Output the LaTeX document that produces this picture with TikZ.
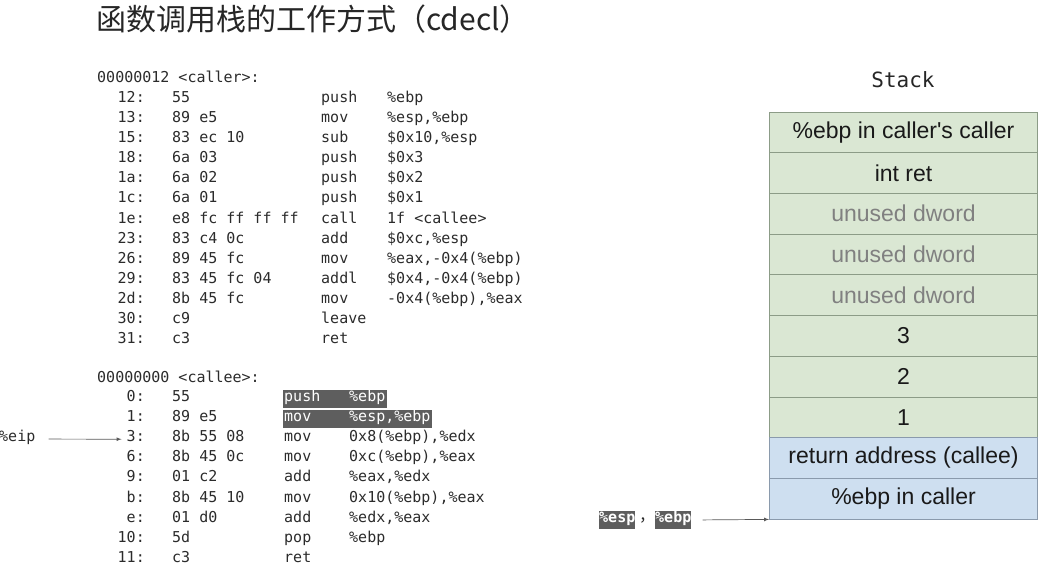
\documentclass[tikz,border=0pt]{standalone}
\usepackage{fontspec}
\setmainfont{Liberation Sans}
\setmonofont{DejaVu Sans Mono}
\newfontfamily\cjk{Noto Sans CJK SC}
\usetikzlibrary{arrows,backgrounds,positioning}
\definecolor{gfill}{HTML}{DAE7D3}
\definecolor{gline}{HTML}{8C9C87}
\definecolor{bfill}{HTML}{CEDFF0}
\definecolor{bline}{HTML}{8A9AAC}
\definecolor{codetext}{HTML}{2B2B2B}
\definecolor{hlgray}{HTML}{5E5E5E}

\begin{document}
\begin{tikzpicture}[
    x=1pt, y=-1pt,
    asm/.style={font=\ttfamily\fontsize{15}{18}\selectfont,text=codetext,
        inner sep=0pt,text height=11pt,text depth=6pt,anchor=west},
    hl/.style={text=white},
    nohl/.style={},
    hlbox/.style={fill=hlgray},
    tag/.style={asm,fill=hlgray,text=white,text height=12pt,text depth=6.5pt,
        font=\ttfamily\bfseries\fontsize{15}{18}\selectfont},
    gcell/.style={draw=gline,fill=gfill,line width=0.8pt,
        minimum width=268pt,minimum height=40.7pt,inner sep=0pt,
        font=\fontsize{23}{26}\selectfont,text=black!90},
    ucell/.style={gcell,text=black!50},
    bcell/.style={gcell,draw=bline,fill=bfill},
    ptr/.style={->,draw=black!65,line width=0.7pt},
    >=latex,
    ]
    \useasboundingbox (0,0) rectangle (1048,571);
    % title
    \node[font=\cjk\fontsize{30}{34}\selectfont,text=black!85,
        anchor=west,inner sep=0pt] (title) at (96,19)
        {函数调用栈的工作方式（cdecl）};
    % caller
    \node[asm] (caller) at (97,80) {00000012 <caller>:};
    \foreach \a/\b/\m/\o [count=\i] in {
        12/55/push/\%ebp,
        13/89 e5/mov/{\%esp,\%ebp},
        15/83 ec 10/sub/{\$0x10,\%esp},
        18/6a 03/push/\$0x3,
        1a/6a 02/push/\$0x2,
        1c/6a 01/push/\$0x1,
        1e/e8 fc ff ff ff/call/1f <callee>,
        23/83 c4 0c/add/{\$0xc,\%esp},
        26/89 45 fc/mov/{\%eax,-0x4(\%ebp)},
        29/83 45 fc 04/addl/{\$0x4,-0x4(\%ebp)},
        2d/8b 45 fc/mov/{-0x4(\%ebp),\%eax},
        30/c9/leave/{},
        31/c3/ret/{}}
    {
        \node[asm,anchor=east] (adr\i) at (145,99.8+20.12*\i-20.12) {\a:};
        \node[asm] (hex\i) at (172,99.8+20.12*\i-20.12) {\b};
        \node[asm] (mn\i) at (321,99.8+20.12*\i-20.12) {\m};
        \node[asm] (arg\i) at (387,99.8+20.12*\i-20.12) {\o};
    }
    % callee
    \node[asm] (callee) at (97,379.5) {00000000 <callee>:};
    \foreach \a/\b/\m/\o/\s [count=\i] in {
        0/55/push/\%ebp/hl,
        1/89 e5/mov/{\%esp,\%ebp}/hl,
        3/8b 55 08/mov/{0x8(\%ebp),\%edx}/nohl,
        6/8b 45 0c/mov/{0xc(\%ebp),\%eax}/nohl,
        9/01 c2/add/{\%eax,\%edx}/nohl,
        b/8b 45 10/mov/{0x10(\%ebp),\%eax}/nohl,
        e/01 d0/add/{\%edx,\%eax}/nohl,
        10/5d/pop/\%ebp/nohl,
        11/c3/ret/{}/nohl}
    {
        \node[asm,anchor=east] (cadr\i) at (145,399+20.12*\i-20.12) {\a:};
        \node[asm] (chex\i) at (172,399+20.12*\i-20.12) {\b};
        \node[asm,\s] (cmn\i) at (284,399+20.12*\i-20.12) {\m};
        \node[asm,\s] (carg\i) at (349,399+20.12*\i-20.12) {\o};
    }
    \begin{pgfonlayer}{background}
        \fill[hlbox] ([xshift=-1pt]cmn1.north west)
            rectangle ([xshift=1pt]carg1.south east);
        \fill[hlbox] ([xshift=-1pt]cmn2.north west)
            rectangle ([xshift=1pt]carg2.south east);
    \end{pgfonlayer}
    % instruction pointer
    \node[asm] (eip) at (-1,439) {\%eip};
    \draw[ptr,shorten <=13pt,shorten >=5pt] (eip) -- (cadr3);
    % stack
    \node[font=\ttfamily\fontsize{21}{24}\selectfont,text=black!85]
        (stk) at (903,80) {Stack};
    \foreach \t/\s [count=\i] in {
        \%ebp in caller\textquotesingle s caller/gcell,
        int ret/gcell,
        unused dword/ucell,
        unused dword/ucell,
        unused dword/ucell,
        3/gcell,
        2/gcell,
        1/gcell,
        return address (callee)/bcell,
        \%ebp in caller/bcell}
    {
        \node[\s] (s\i) at (903.5,91.65+40.7*\i) {\t};
    }
    % esp and ebp
    \node[tag] (esp) at (599,520) {\%esp};
    \node[anchor=west,inner sep=0pt,font=\cjk\fontsize{16}{18}\selectfont,
        text=codetext] (comma) at (639,520) {，};
    \node[tag] (ebp) at (655,520) {\%ebp};
    \draw[ptr,shorten <=11pt] (ebp.east) -- (s10.south west);
\end{tikzpicture}
\end{document}
